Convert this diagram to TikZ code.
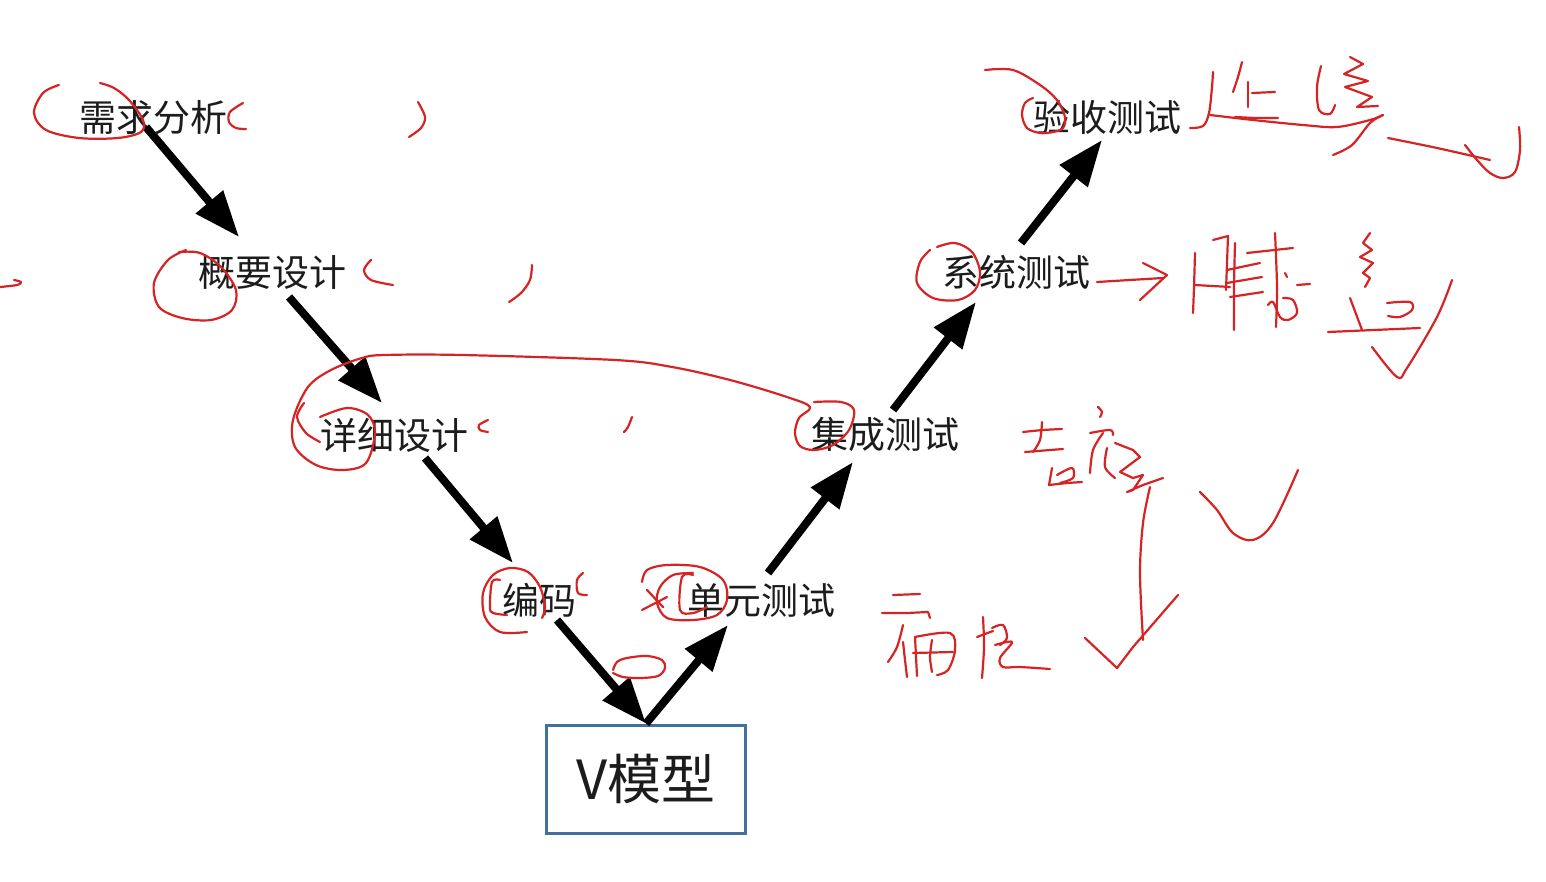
\documentclass[tikz,border=0pt]{standalone}
\usepackage{fontspec}
\setmainfont{Noto Sans CJK SC}
\usetikzlibrary{arrows.meta,calc}
\definecolor{inkred}{RGB}{214,36,36}
\definecolor{boxblue}{RGB}{65,113,156}
\definecolor{txt}{RGB}{28,28,28}
\newcommand\inkpath[1]{\draw[ink] plot[smooth,tension=0.55] coordinates {#1};}
\newcommand\inkzig[1]{\draw[ink] plot coordinates {#1};}
\begin{document}
\begin{tikzpicture}[x=0.5pt,y=-0.5pt,
  lbl/.style={inner sep=0pt, text=txt, font=\fontsize{18.5pt}{20pt}\selectfont},
  arr/.style={line width=4pt, draw=black, -{Triangle[length=23pt,width=17pt]}},
  ink/.style={draw=inkred, line width=1.1pt, line cap=round, line join=round},
  vbox/.style={draw=boxblue, line width=1.5pt, minimum width=99.5pt, minimum height=54pt,
    inner sep=0pt, text=txt, font=\fontsize{27pt}{30pt}\selectfont}]
\fill[white] (0,0) rectangle (1546,882);
\useasboundingbox (0,0) rectangle (1546,882);

% ---- V model nodes ----
\node[lbl] (req)   at (153,117) {需求分析};
\node[lbl] (gai)   at (272,272) {概要设计};
\node[lbl] (xiang) at (394,435) {详细设计};
\node[lbl] (code)  at (539,600) {编码};
\node[lbl] (unit)  at (761,600) {单元测试};
\node[lbl] (integ) at (885,435) {集成测试};
\node[lbl] (sys)   at (1016,272) {系统测试};
\node[lbl] (acc)   at (1107,117) {验收测试};
\node[vbox] (vm)   at (646,779) {V模型};

% ---- arrows ----
\draw[arr] ($(req)+(-7,10)$) -- ($(gai)+(-33,-35)$);
\draw[arr] ($(gai)+(17,25)$) -- ($(xiang)+(-12,-32)$);
\draw[arr] ($(xiang)+(31,23)$) -- ($(code)+(-26,-37)$);
\draw[arr] ($(code)+(18,20)$) -- (vm.north);
\draw[arr] (vm.north) -- ($(unit)+(-33,25)$);
\draw[arr] ($(unit)+(7,-27)$) -- ($(integ)+(-32,27)$);
\draw[arr] ($(integ)+(8,-25)$) -- ($(sys)+(-40,30)$);
\draw[arr] ($(sys)+(5,-29)$) -- ($(acc)+(-5,23)$);

% ---- red annotations: left side ----
\inkpath{(100,83)(114,88)(129,100)(143,120)(141,132)(118,138)(79,138)(46,130)(34,113)(43,93)(59,85)}
\inkpath{(243,103)(230,112)(229,122)(236,128)(246,129)}
\inkpath{(418,102)(425,117)(421,128)(409,137)}
\inkpath{(0,287)(17,285)(21,282)(14,280)}
\inkpath{(186,250)(168,260)(154,283)(159,307)(182,318)(211,320)(232,310)(236,290)(221,267)(200,253)(179,252)}
\inkpath{(371,260)(364,270)(371,280)(393,285)}
\inkpath{(532,265)(530,280)(521,293)(509,302)}
\inkpath{(320,417)(347,408)(368,415)(375,433)(366,463)(343,470)(316,465)(295,447)(293,420)(308,387)(331,370)(362,358)(385,355)(462,355)(615,360)(672,367)(730,380)(787,397)(810,407)(799,418)(795,433)(800,446)(814,450)(833,445)(849,430)(854,410)(841,402)(814,402)}
\inkpath{(304,403)(297,417)(306,433)(320,442)}
\inkpath{(488,420)(479,425)(480,430)(488,432)}
\inkpath{(632,417)(628,427)(624,432)}
\inkpath{(527,632)(500,632)(485,617)(483,593)(493,575)(510,568)(528,572)(540,587)(545,607)(542,618)}
\inkpath{(500,580)(492,582)(490,607)(493,613)(507,615)}
\inkpath{(583,573)(577,580)(578,593)(587,595)}
\inkpath{(642,582)(647,570)(667,565)(700,567)(723,580)(727,600)(717,615)(693,620)(667,618)(657,603)(660,587)(673,575)(693,573)}
\inkpath{(693,575)(682,577)(680,610)(693,613)(707,607)}
\inkpath{(642,610)(667,597)}
\inkpath{(647,590)(663,607)}
\inkpath{(613,670)(617,662)(627,658)(647,656)(662,660)(665,668)(658,676)(640,678)(623,677)(613,673)}

% ---- red annotations: right side ----
\inkpath{(985,70)(1013,70)(1040,85)(1057,100)(1065,117)(1063,128)(1053,132)(1040,133)(1027,128)(1022,115)(1025,103)(1033,98)}
\inkpath{(937,247)(955,243)(972,252)(980,272)(975,290)(958,300)(933,298)(917,283)(920,262)(930,250)}
% handwriting after acceptance test
\inkpath{(1190,128)(1203,126)(1209,113)(1212,87)(1213,72)}
\inkpath{(1242,62)(1238,77)(1233,92)}
\inkpath{(1248,82)(1248,107)}
\inkpath{(1252,93)(1275,92)}
\inkpath{(1235,117)(1257,118)(1278,118)}
\inkpath{(1210,115)(1253,120)(1303,125)(1337,127)(1370,120)(1383,115)}
\inkpath{(1321,66)(1317,87)(1319,110)(1330,114)(1335,105)}
\inkzig{(1350,57)(1363,64)(1344,74)(1368,81)(1345,87)(1372,97)(1357,107)(1378,106)}
\inkpath{(1333,155)(1352,145)(1370,123)(1383,115)}
\inkpath{(1388,138)(1437,148)(1490,160)}
\inkpath{(1465,145)(1477,160)(1490,173)(1503,178)(1515,172)(1520,150)(1519,127)}
% arrow and handwriting after system test
\inkpath{(1097,282)(1130,280)(1163,278)}
\inkzig{(1143,263)(1167,275)(1140,300)}
\inkpath{(1195,253)(1194,287)(1193,313)}
\inkzig{(1213,240)(1228,236)(1227,263)(1226,290)}
\inkpath{(1195,285)(1230,287)}
\inkpath{(1235,243)(1234,287)(1234,330)}
\inkpath{(1227,270)(1260,263)}
\inkpath{(1227,283)(1262,277)}
\inkpath{(1230,297)(1263,292)}
\inkpath{(1275,233)(1277,287)(1276,327)}
\inkpath{(1247,253)(1293,248)}
\inkpath{(1268,305)(1273,302)(1280,317)(1288,320)(1297,313)(1293,300)(1283,298)}
\inkpath{(1285,273)(1287,277)}
\inkpath{(1297,285)(1310,284)}
\inkzig{(1370,233)(1363,243)(1372,250)(1360,257)(1373,263)(1363,273)(1370,278)(1365,287)}
\inkpath{(1350,298)(1362,330)}
\inkpath{(1328,332)(1420,328)}
\inkpath{(1387,303)(1410,302)(1412,310)(1400,317)(1388,316)}
\inkpath{(1372,347)(1397,377)(1407,368)(1437,317)(1452,280)}
% handwriting right of integration test
\inkpath{(1023,432)(1043,430)(1062,429)}
\inkpath{(1042,422)(1040,440)(1033,452)}
\inkpath{(1025,452)(1063,449)}
\inkzig{(1052,468)(1049,485)(1067,483)(1082,482)}
\inkpath{(1057,475)(1072,468)(1073,478)(1060,483)}
\inkpath{(1098,407)(1102,412)(1100,417)}
\inkpath{(1090,433)(1110,430)(1113,435)}
\inkpath{(1103,433)(1093,450)(1090,473)}
\inkpath{(1107,448)(1105,467)(1115,478)}
\inkzig{(1115,443)(1133,450)(1140,457)(1120,472)(1133,478)(1143,475)(1133,490)(1127,492)(1143,485)(1163,478)}
\inkpath{(1150,487)(1143,523)(1140,573)(1143,640)}
\inkzig{(1085,638)(1117,668)(1133,647)(1178,595)}
\inkpath{(1200,492)(1217,510)(1233,533)(1253,540)(1273,523)(1298,470)}
% handwriting right of unit test
\inkpath{(893,595)(920,594)}
\inkzig{(882,613)(907,613)(928,612)(930,618)}
\inkpath{(903,625)(897,647)(888,662)}
\inkpath{(903,642)(905,660)(907,677)}
\inkpath{(915,637)(950,633)(955,650)(948,670)(937,675)}
\inkpath{(915,637)(917,676)}
\inkpath{(913,653)(953,652)}
\inkpath{(932,640)(930,657)(932,672)}
\inkpath{(983,617)(984,647)(982,678)}
\inkpath{(977,637)(993,631)}
\inkpath{(992,628)(1003,625)(1007,638)(1000,645)}
\inkpath{(995,645)(1012,642)(1000,658)(1003,667)(1020,667)(1050,669)}
\end{tikzpicture}
\end{document}
